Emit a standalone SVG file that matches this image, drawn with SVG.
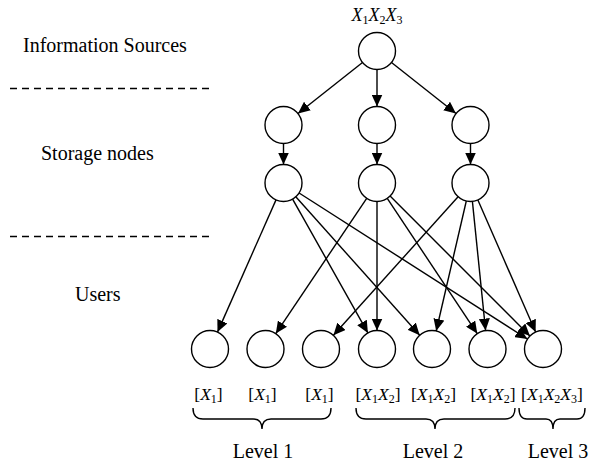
<svg xmlns="http://www.w3.org/2000/svg" width="590" height="466" viewBox="0 0 590 466">
<style>
text{font-family:"Liberation Serif","Times New Roman",serif;fill:#000}
.lbl{font-size:20px}
.m{font-size:17.5px}
.t{font-size:18px}
.i{font-style:italic}
.s{font-size:12px}
circle{fill:#fff;stroke:#000;stroke-width:1.4}
.e line{stroke:#000;stroke-width:1.4;marker-end:url(#ah)}
.dash{stroke:#000;stroke-width:1.3;stroke-dasharray:7 5}
.br{fill:none;stroke:#000;stroke-width:1.4}
</style>
<defs>
<marker id="ah" markerUnits="userSpaceOnUse" markerWidth="12" markerHeight="11" refX="12" refY="5.5" orient="auto">
<path d="M0,0 L12,5.5 L0,11 z" fill="#000"/>
</marker>
</defs>
<rect width="590" height="466" fill="#fff"/>
<g id="layers">
<text class="lbl" x="23" y="52">Information Sources</text>
<text class="lbl" x="41" y="160">Storage nodes</text>
<text class="lbl" x="75" y="301">Users</text>
<line class="dash" x1="10" y1="88.5" x2="212" y2="88.5"/>
<line class="dash" x1="10" y1="236.5" x2="212" y2="236.5"/>
</g>
<g id="source">
<circle cx="377" cy="51" r="18.5"/>
<text class="t" x="377" y="21" text-anchor="middle"><tspan class="i">X</tspan><tspan class="s" dy="3">1</tspan><tspan class="i" dy="-3">X</tspan><tspan class="s" dy="3">2</tspan><tspan class="i" dy="-3">X</tspan><tspan class="s" dy="3">3</tspan></text>
</g>
<g id="storage-top-1"><circle cx="283.5" cy="125" r="18.5"/></g>
<g id="storage-top-2"><circle cx="377" cy="125" r="18.5"/></g>
<g id="storage-top-3"><circle cx="470.5" cy="125" r="18.5"/></g>
<g id="storage-1"><circle cx="283.5" cy="183" r="18.5"/></g>
<g id="storage-2"><circle cx="377" cy="183" r="18.5"/></g>
<g id="storage-3"><circle cx="470.5" cy="183" r="18.5"/></g>
<g id="user-1"><circle cx="210" cy="349" r="18.5"/><text class="m" x="208.5" y="400" text-anchor="middle">[<tspan class="i">X</tspan><tspan class="s" dy="3">1</tspan><tspan dy="-3">]</tspan></text></g>
<g id="user-2"><circle cx="265.5" cy="349" r="18.5"/><text class="m" x="262.5" y="400" text-anchor="middle">[<tspan class="i">X</tspan><tspan class="s" dy="3">1</tspan><tspan dy="-3">]</tspan></text></g>
<g id="user-3"><circle cx="321" cy="349" r="18.5"/><text class="m" x="319.5" y="400" text-anchor="middle">[<tspan class="i">X</tspan><tspan class="s" dy="3">1</tspan><tspan dy="-3">]</tspan></text></g>
<g id="user-4"><circle cx="377" cy="349" r="18.5"/><text class="m" x="378" y="400" text-anchor="middle">[<tspan class="i">X</tspan><tspan class="s" dy="3">1</tspan><tspan class="i" dy="-3">X</tspan><tspan class="s" dy="3">2</tspan><tspan dy="-3">]</tspan></text></g>
<g id="user-5"><circle cx="432" cy="349" r="18.5"/><text class="m" x="433.5" y="400" text-anchor="middle">[<tspan class="i">X</tspan><tspan class="s" dy="3">1</tspan><tspan class="i" dy="-3">X</tspan><tspan class="s" dy="3">2</tspan><tspan dy="-3">]</tspan></text></g>
<g id="user-6"><circle cx="487.5" cy="349" r="18.5"/><text class="m" x="493" y="400" text-anchor="middle">[<tspan class="i">X</tspan><tspan class="s" dy="3">1</tspan><tspan class="i" dy="-3">X</tspan><tspan class="s" dy="3">2</tspan><tspan dy="-3">]</tspan></text></g>
<g id="user-7"><circle cx="543" cy="349" r="18.5"/><text class="m" x="552" y="400" text-anchor="middle">[<tspan class="i">X</tspan><tspan class="s" dy="3">1</tspan><tspan class="i" dy="-3">X</tspan><tspan class="s" dy="3">2</tspan><tspan class="i" dy="-3">X</tspan><tspan class="s" dy="3">3</tspan><tspan dy="-3">]</tspan></text></g>
<g id="levels">
<path class="br" d="M193,408 Q193,419 203,419 L253,419 Q262,419 262,429 Q262,419 271,419 L321,419 Q331,419 331,408"/>
<path class="br" d="M356,408 Q356,419 366,419 L426,419 Q435,419 435,429 Q435,419 444,419 L505,419 Q515,419 515,408"/>
<path class="br" d="M519,408 Q519,419 527,419 L546,419 Q553,419 553,429 Q553,419 560,419 L577,419 Q585,419 585,408"/>
<text class="lbl" x="263" y="458" text-anchor="middle">Level 1</text>
<text class="lbl" x="433" y="458" text-anchor="middle">Level 2</text>
<text class="lbl" x="558" y="458" text-anchor="middle">Level 3</text>
</g>
<g id="connectors" class="e">
<line x1="362.5" y1="62.5" x2="298" y2="113.5"/>
<line x1="377" y1="69.5" x2="377" y2="106.5"/>
<line x1="391.5" y1="62.5" x2="456" y2="113.5"/>
<line x1="283.5" y1="143.5" x2="283.5" y2="164.5"/>
<line x1="377" y1="143.5" x2="377" y2="164.5"/>
<line x1="470.5" y1="143.5" x2="470.5" y2="164.5"/>
<line x1="276" y1="199.9" x2="217.5" y2="332.1"/>
<line x1="292.6" y1="199.1" x2="367.9" y2="332.9"/>
<line x1="295.8" y1="196.8" x2="419.7" y2="335.2"/>
<line x1="299.1" y1="193" x2="527.4" y2="339"/>
<line x1="366.7" y1="198.4" x2="275.8" y2="333.6"/>
<line x1="377" y1="201.5" x2="377" y2="330.5"/>
<line x1="387.25" y1="198.4" x2="477.25" y2="333.6"/>
<line x1="390.1" y1="196.1" x2="529.9" y2="335.9"/>
<line x1="458.1" y1="196.7" x2="333.4" y2="335.3"/>
<line x1="466.3" y1="201" x2="436.2" y2="331"/>
<line x1="472.4" y1="201.4" x2="485.6" y2="330.6"/>
<line x1="477.9" y1="200" x2="535.6" y2="332"/>
</g>
</svg>
